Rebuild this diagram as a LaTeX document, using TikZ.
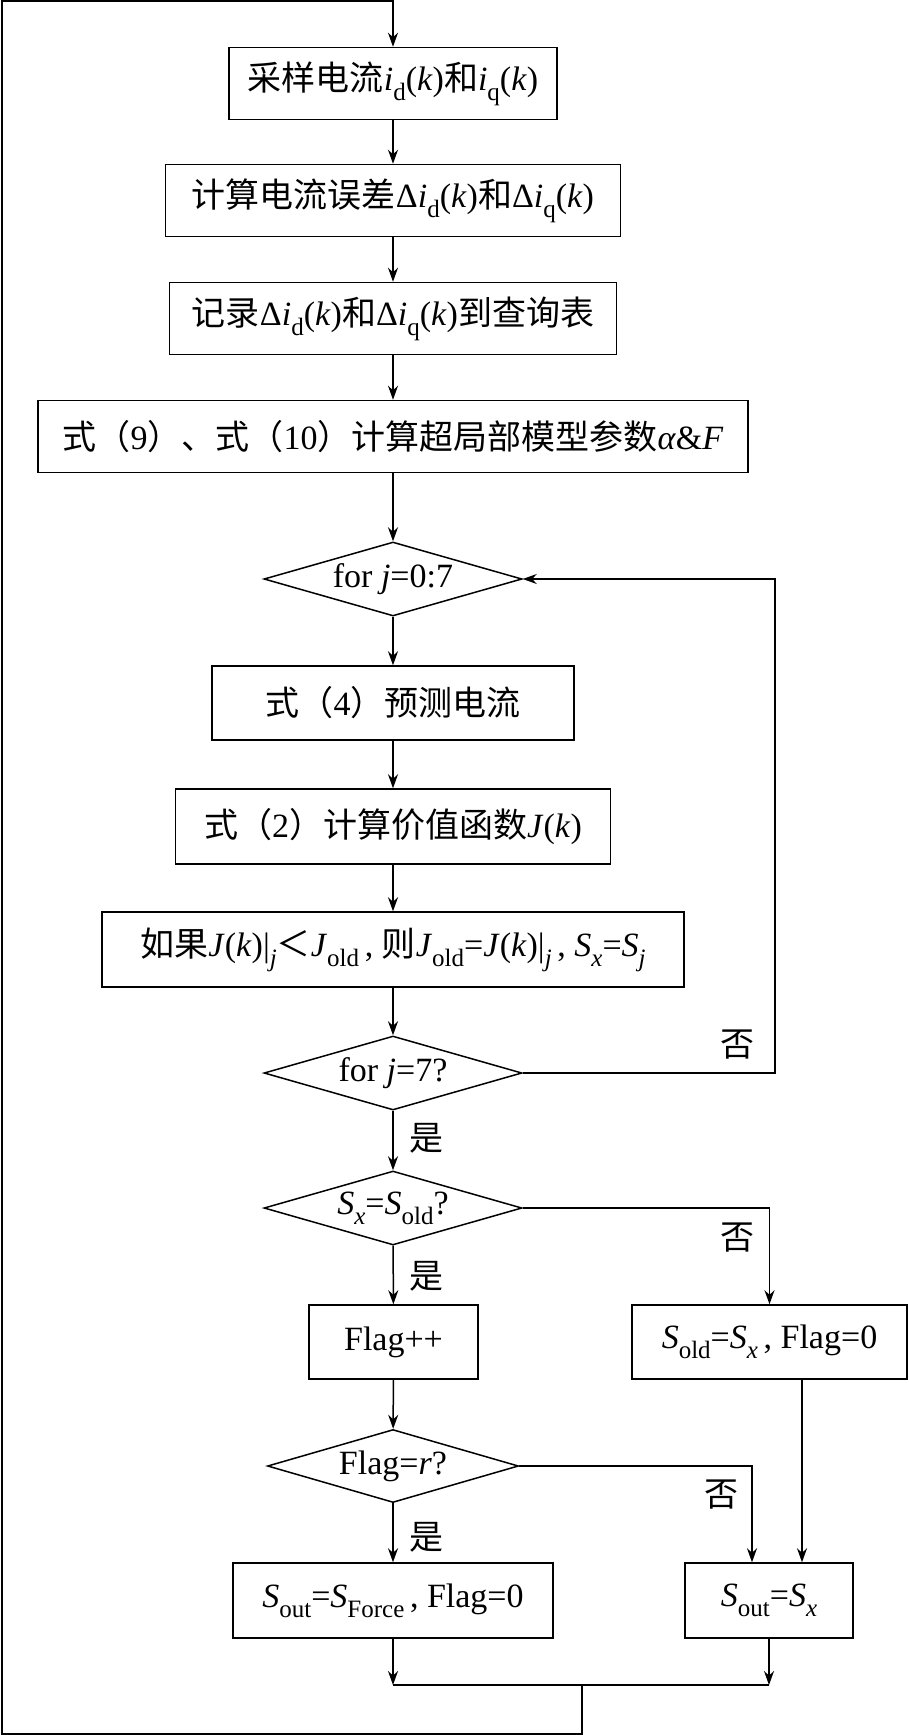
\documentclass[tikz,border=0pt]{standalone}
\usepackage{fontspec}
\setmainfont{Liberation Serif}
\newfontfamily\cjk{Noto Sans CJK SC}
\usetikzlibrary{arrows.meta, shapes.geometric, calc}
% Chinese text and lowered indices
\newcommand{\zh}[1]{{\cjk #1}}
\newcommand{\lo}[1]{\raisebox{-0.3em}{\fontsize{25}{28}\selectfont #1}}
\newcommand{\iv}[1]{\textit{#1}}

\begin{document}
\begin{tikzpicture}[x=1pt, y=-1pt,
  every node/.style={font=\fontsize{34}{40}\selectfont},
  box/.style={draw, line width=1.5pt, minimum height=72pt, inner sep=0pt},
  dia/.style={draw, diamond, aspect=3.5, line width=1.5pt, inner sep=0pt,
              minimum width=258pt, minimum height=74pt},
  arr/.style={-{Stealth[length=14pt, width=10pt]}, line width=1.5pt},
  ln/.style={line width=1.5pt}]
  \useasboundingbox (0,0) rectangle (908,1735);
  % Main column
  \node[box, minimum width=328pt] (samp) at (393,83.5)
    {\zh{采样电流}\iv{i}\lo{d}(\iv{k})\zh{和}\iv{i}\lo{q}(\iv{k})};
  \node[box, minimum width=455pt] (err) at (393,200.5)
    {\zh{计算电流误差}Δ\iv{i}\lo{d}(\iv{k})\zh{和}Δ\iv{i}\lo{q}(\iv{k})};
  \node[box, minimum width=447pt] (rec) at (393,318.5)
    {\zh{记录}Δ\iv{i}\lo{d}(\iv{k})\zh{和}Δ\iv{i}\lo{q}(\iv{k})\zh{到查询表}};
  \node[box, minimum width=710pt] (param) at (393,436.5)
    {\zh{式（}9\zh{）、式（}10\zh{）计算超局部模型参数}\iv{α}\&\iv{F}};
  \node[dia] (forj) at (393,579) {for \iv{j}=0:7};
  \node[box, minimum width=362pt, minimum height=74pt] (pred) at (393,703)
    {\zh{式（}4\zh{）预测电流}};
  \node[box, minimum width=435pt, minimum height=75pt] (cost) at (393,826.5)
    {\zh{式（}2\zh{）计算价值函数}\iv{J}(\iv{k})};
  \node[box, minimum width=582pt, minimum height=75pt] (cmp) at (393,949.5)
    {\zh{如果}\iv{J}(\iv{k})|\lo{\iv{j}}\zh{＜}\iv{J}\lo{old}\,,\ \zh{则}\iv{J}\lo{old}=\iv{J}(\iv{k})|\lo{\iv{j}}\,,\ \iv{S}\lo{\iv{x}}=\iv{S}\lo{\iv{j}}};
  \node[dia] (last) at (393,1073) {for \iv{j}=7?};
  \node[dia] (same) at (393,1208) {\iv{S}\lo{\iv{x}}=\iv{S}\lo{old}?};
  % Two branches
  \node[box, minimum width=169pt, minimum height=74pt] (inc) at (393.5,1342) {Flag++};
  \node[box, minimum width=275pt, minimum height=74pt] (reset) at (769.5,1342)
    {\iv{S}\lo{old}=\iv{S}\lo{\iv{x}}\,,\ Flag=0};
  \node[dia, minimum width=251pt, minimum height=73pt] (full) at (393,1466) {Flag=\iv{r}?};
  \node[box, minimum width=320pt, minimum height=75pt] (force) at (393,1600.5)
    {\iv{S}\lo{out}=\iv{S}\lo{Force}\,,\ Flag=0};
  \node[box, minimum width=168pt, minimum height=75pt] (keep) at (769,1600.5)
    {\iv{S}\lo{out}=\iv{S}\lo{\iv{x}}};
  % Helper points
  \coordinate (loopx) at (775,0);
  \coordinate (nox) at (752,0);
  \coordinate (outx) at (802,0);
  \coordinate (jl) at (393,1685);
  \coordinate (jr) at (769,1685);
  \coordinate (jm) at (582,1685);
  % Connectors
  \draw[arr] (samp) -- (err);
  \draw[arr] (err) -- (rec);
  \draw[arr] (rec) -- (param);
  \draw[arr] (param) -- (forj);
  \draw[arr] (forj) -- (pred);
  \draw[arr] (pred) -- (cost);
  \draw[arr] (cost) -- (cmp);
  \draw[arr] (cmp) -- (last);
  \draw[arr] (last.east) -- (last.east -| loopx) -- (forj.east -| loopx) -- (forj.east);
  \draw[arr] (last) -- (same);
  \draw[arr] (same) -- (inc);
  \draw[arr] (same.east) -| (reset.north);
  \draw[arr] (inc) -- (full);
  \draw[arr] (full) -- (force);
  \draw[arr] (full.east) -| (keep.north -| nox);
  \draw[arr] (reset.south -| outx) -- (keep.north -| outx);
  \draw[arr] (force) -- (jl);
  \draw[arr] (keep) -- (jr);
  \draw[ln] (jl) -- (jr);
  \draw[arr] (jm) -- (582,1734) -- (2,1734) -- (2,1) -| (samp.north);
  % Yes / no labels
  \node (no1) at (737,1045) {\zh{否}};
  \node (yes1) at (426,1138) {\zh{是}};
  \node (no2) at (737,1238) {\zh{否}};
  \node (yes2) at (426,1276) {\zh{是}};
  \node (no3) at (721,1495) {\zh{否}};
  \node (yes3) at (426,1537) {\zh{是}};
\end{tikzpicture}
\end{document}
